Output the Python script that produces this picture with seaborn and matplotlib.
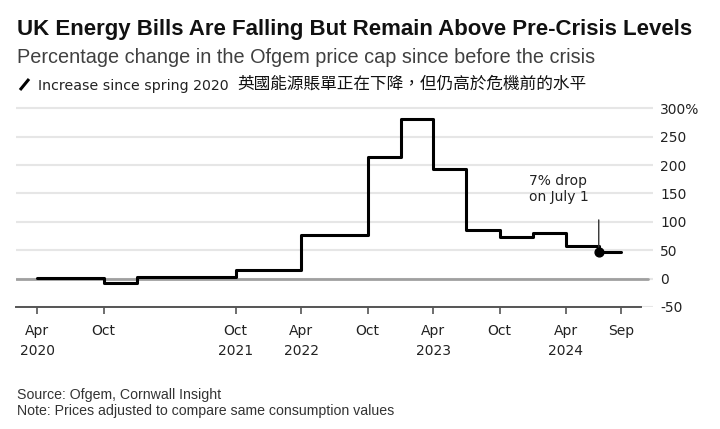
import pandas as pd
import matplotlib.pyplot as plt
import matplotlib.dates as mdates
from matplotlib.lines import Line2D
import seaborn as sns

# Ofgem price cap, % change since spring 2020 (step starts + end of series)
step_dates = ['2020-04-01', '2020-10-01', '2021-01-01', '2021-10-01', '2022-04-01',
              '2022-10-01', '2023-01-01', '2023-04-01', '2023-07-01', '2023-10-01',
              '2024-01-01', '2024-04-01', '2024-07-01', '2024-09-01']
cap_change = [1, -7, 3, 15, 77, 214, 281, 193, 85, 73, 80, 58, 47, 47]

tick_dates = ['2020-04-01', '2020-10-01', '2021-10-01', '2022-04-01', '2022-10-01',
              '2023-04-01', '2023-10-01', '2024-04-01', '2024-09-01']
tick_labels = ['Apr\n2020', 'Oct', 'Oct\n2021', 'Apr\n2022', 'Oct',
               'Apr\n2023', 'Oct', 'Apr\n2024', 'Sep']
y_ticks = [-50, 0, 50, 100, 150, 200, 250, 300]
y_labels = ['-50', '0', '50', '100', '150', '200', '250', '300%']

drop_date = '2024-07-01'
drop_label = '7% drop\non July 1'

df = pd.DataFrame({'date': pd.to_datetime(step_dates), 'change': cap_change})

sns.set_theme(style='white')
plt.rcParams['font.family'] = ['DejaVu Sans']

fig = plt.figure(figsize=(7.2, 4.29), dpi=100)
ax = fig.add_axes([16 / 720, 1 - 307 / 429, 637 / 720, 207 / 429])

# =========================
# Step line
# =========================
sns.lineplot(data=df, x='date', y='change', drawstyle='steps-post',
             color='black', lw=2.2, ax=ax, zorder=3)

drop_value = df.loc[df['date'] == pd.Timestamp(drop_date), 'change'].iloc[0]
ax.scatter([pd.Timestamp(drop_date)], [drop_value], s=40, color='black', zorder=4)
ax.annotate('', xy=(pd.Timestamp(drop_date), drop_value), xytext=(0, 32),
            textcoords='offset pixels',
            arrowprops=dict(arrowstyle='-', color='#333333', lw=1, shrinkA=0, shrinkB=0))
ax.annotate(drop_label, xy=(pd.Timestamp(drop_date), drop_value), xytext=(-70, 78),
            textcoords='offset pixels', ha='left', va='top', fontsize=10,
            color='#222222', linespacing=1.2)

# =========================
# Axes styling
# =========================
ax.set_xlim(pd.Timestamp('2020-02-02'), pd.Timestamp('2024-11-28'))
ax.set_ylim(-50, 314.6)
ax.axhline(0, color='#a0a0a0', lw=2, xmax=0.992, zorder=2)

ax.set_yticks(y_ticks)
ax.set_yticklabels(y_labels)
ax.yaxis.tick_right()
ax.yaxis.grid(True, color='#e6e6e6', lw=1.5)
ax.set_axisbelow(True)

ax.set_xticks(pd.to_datetime(tick_dates))
ax.set_xticklabels(tick_labels, linespacing=1.55)

ax.tick_params(axis='y', length=0, pad=5, labelsize=10, labelcolor='#222222')
ax.tick_params(axis='x', length=5, width=1.2, color='#555555', pad=7,
               labelsize=10, labelcolor='#222222', bottom=True)
for lbl in ax.get_xticklabels():
    lbl.set_va('top')

for side in ['left', 'top', 'right']:
    ax.spines[side].set_visible(False)
ax.spines['bottom'].set_color('#555555')
ax.spines['bottom'].set_linewidth(1.4)
ax.spines['bottom'].set_bounds(mdates.date2num(pd.Timestamp('2020-02-02')),
                               mdates.date2num(pd.Timestamp('2024-10-26')))
ax.set_xlabel('')
ax.set_ylabel('')

# =========================
# Titles and notes
# =========================
fig.text(17 / 720, 1 - 35 / 429, 'UK Energy Bills Are Falling But Remain Above Pre-Crisis Levels',
         fontsize=16, weight='bold', family=['Liberation Sans'],
         color='#111111', va='baseline')
fig.text(17 / 720, 1 - 63 / 429, 'Percentage change in the Ofgem price cap since before the crisis',
         fontsize=14.3, family=['Liberation Sans'], color='#404040', va='baseline')

fig.add_artist(Line2D([20 / 720, 29 / 720], [1 - 90 / 429, 1 - 79 / 429],
                      color='black', lw=2.2, solid_capstyle='butt'))
t1 = fig.text(38 / 720, 1 - 90 / 429, 'Increase since spring 2020',
              fontsize=10.2, color='#222222', va='baseline')
ax.annotate('英國能源賬單正在下降，但仍高於危機前的水平', xy=(1, 0), xycoords=t1,
            xytext=(9, 0), textcoords='offset pixels', va='bottom', fontsize=12,
            family=['Noto Sans CJK TC', 'DejaVu Sans'], color='#111111',
            annotation_clip=False)

fig.text(17 / 720, 1 - 399 / 429, 'Source: Ofgem, Cornwall Insight',
         fontsize=10.2, family=['Liberation Sans'], color='#333333', va='baseline')
fig.text(17 / 720, 1 - 415 / 429, 'Note: Prices adjusted to compare same consumption values',
         fontsize=10.2, family=['Liberation Sans'], color='#333333', va='baseline')

fig.savefig('out.png', dpi=100)
